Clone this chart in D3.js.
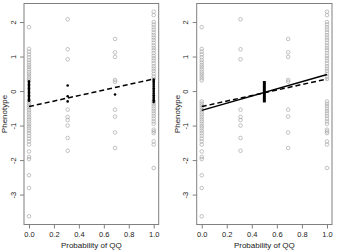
<!DOCTYPE html>
<html><head><meta charset="utf-8">
<script src="https://cdn.jsdelivr.net/npm/d3@7"></script>
<style>html,body{margin:0;padding:0;background:#fff;}svg{display:block;}</style>
</head><body>
<svg id="chart" width="340" height="252"></svg>
<script>
// ---- data ----
const xLevels = [0, 0.31, 0.69, 1];
const pheno0 = [1.85, 1.22, 1.14, 1.06, 0.98, 0.9, 0.83, 0.76, 0.7, 0.63, 0.56, 0.5, 0.43, 0.37, 0.31,
  -0.3, -0.36, -0.42, -0.48, -0.55, -0.62, -0.68, -0.75, -0.82, -0.88, -0.95, -1.02, -1.08, -1.15,
  -1.22, -1.3, -1.38, -1.46, -1.55, -1.75, -1.91, -1.97, -2.44, -2.81, -3.63];
const pheno031 = [2.08, 1.21, 0.92, -0.54, -0.75, -0.84, -1.0, -1.36, -1.73];
const pheno069 = [1.51, 1.12, 0.99, 0.32, 0.27, -0.54, -0.74, -1.2, -1.65];
const pheno1 = [2.3, 2.2, 2.0, 1.93, 1.85, 1.78, 1.7, 1.62, 1.55, 1.48, 1.4, 1.32, 1.25, 1.18, 1.1,
  1.02, 0.95, 0.88, 0.8, 0.72, 0.65, 0.58, 0.5, 0.42, 0.35,
  -0.3, -0.37, -0.44, -0.51, -0.58, -0.65, -0.72, -0.8, -0.88, -0.95, -1.12, -1.17, -1.22,
  -1.46, -1.55, -2.23];
const phenoByLevel = [pheno0, pheno031, pheno069, pheno1];

// black points (left panel)
const black0 = [0.28, 0.24, 0.2, 0.16, 0.12, 0.08, 0.04, 0.0, -0.04, -0.08, -0.12, -0.16, -0.2, -0.24, -0.28];
const black031 = [0.16, -0.15, -0.3];
const black069 = [-0.1];
const black1 = [0.33, 0.28, 0.23, 0.18, 0.13, 0.08, 0.03, -0.02, -0.07, -0.12, -0.17, -0.22, -0.27, -0.32];
const blackByLevel = [black0, black031, black069, black1];

const dashedLine = [[0, -0.45], [1, 0.35]];
const solidLine = [[0, -0.56], [1, 0.48]];
const barX = 0.5;
const barRange = [-0.33, 0.29];

const xTicks = [0, 0.2, 0.4, 0.6, 0.8, 1.0];
const yTicks = [-3, -2, -1, 0, 1, 2];
const xLabel = "Probability of QQ";
const yLabel = "Phenotype";

// ---- drawing ----
const svg = d3.select("#chart");
const font = "'Liberation Sans', Arial, Helvetica, sans-serif";
const allY = phenoByLevel.flat();
const yMin = d3.min(allY), yMax = d3.max(allY);
const yPad = (yMax - yMin) * 0.04;
const plotTop = 3.5, plotBottom = 224.5;

function panel(left, right, opts) {
  const x = d3.scaleLinear().domain([-0.04, 1.04]).range([left, right]);
  const y = d3.scaleLinear().domain([yMin - yPad, yMax + yPad]).range([plotBottom, plotTop]);
  const g = svg.append("g");

  phenoByLevel.forEach((vals, i) => {
    g.selectAll(null).data(vals).enter().append("circle")
      .attr("cx", x(xLevels[i])).attr("cy", d => y(d)).attr("r", 1.8)
      .attr("fill", "none").attr("stroke", "#a8a8a8").attr("stroke-width", 0.7);
  });

  if (opts.black) {
    blackByLevel.forEach((vals, i) => {
      g.selectAll(null).data(vals).enter().append("circle")
        .attr("cx", x(xLevels[i])).attr("cy", d => y(d)).attr("r", 1.3)
        .attr("fill", "#000");
    });
  }
  if (opts.bar) {
    g.append("line").attr("x1", x(barX)).attr("x2", x(barX))
      .attr("y1", y(barRange[0])).attr("y2", y(barRange[1]))
      .attr("stroke", "#000").attr("stroke-width", 3);
  }
  const line = d3.line().x(d => x(d[0])).y(d => y(d[1]));
  if (opts.solid) {
    g.append("path").attr("d", line(solidLine)).attr("fill", "none")
      .attr("stroke", "#000").attr("stroke-width", 1.5);
  }
  g.append("path").attr("d", line(dashedLine)).attr("fill", "none")
    .attr("stroke", "#000").attr("stroke-width", 1.5).attr("stroke-dasharray", "5,3");

  g.append("rect").attr("x", left).attr("y", plotTop).attr("width", right - left).attr("height", plotBottom - plotTop)
    .attr("fill", "none").attr("stroke", "#808080").attr("stroke-width", 1);

  const ax = g.append("g").attr("transform", `translate(0,${plotBottom})`)
    .call(d3.axisBottom(x).tickValues(xTicks).tickFormat(d3.format(".1f")).tickSize(4).tickPadding(3.6));
  ax.select(".domain").remove();
  ax.selectAll("line").attr("stroke", "#808080");
  ax.selectAll("text").attr("font-family", font).attr("font-size", 7.5).attr("fill", "#222");

  const ay = g.append("g").attr("transform", `translate(${left},0)`)
    .call(d3.axisLeft(y).tickValues(yTicks).tickFormat(d => d < 0 ? "-" + Math.abs(d) : String(d)).tickSize(4));
  ay.select(".domain").remove();
  ay.selectAll("line").attr("stroke", "#808080");
  ay.selectAll("text").attr("font-family", font).attr("font-size", 7.5).attr("fill", "#222")
    .attr("text-anchor", "middle").attr("transform", "rotate(-90)")
    .attr("x", 0).attr("y", -11).attr("dy", "0.35em");

  g.append("text").attr("x", (left + right) / 2).attr("y", 248)
    .attr("text-anchor", "middle").attr("font-family", font).attr("font-size", 8).attr("fill", "#222")
    .text(xLabel);
  g.append("text").attr("transform", `translate(${left - 19.5},${(plotTop + plotBottom) / 2}) rotate(-90)`)
    .attr("text-anchor", "middle").attr("dy", "0.35em")
    .attr("font-family", font).attr("font-size", 8).attr("fill", "#222")
    .text(yLabel);
}

panel(24, 158.7, {black: true, bar: false, solid: false});
panel(196.7, 332, {black: false, bar: true, solid: true});
</script>
</body></html>
